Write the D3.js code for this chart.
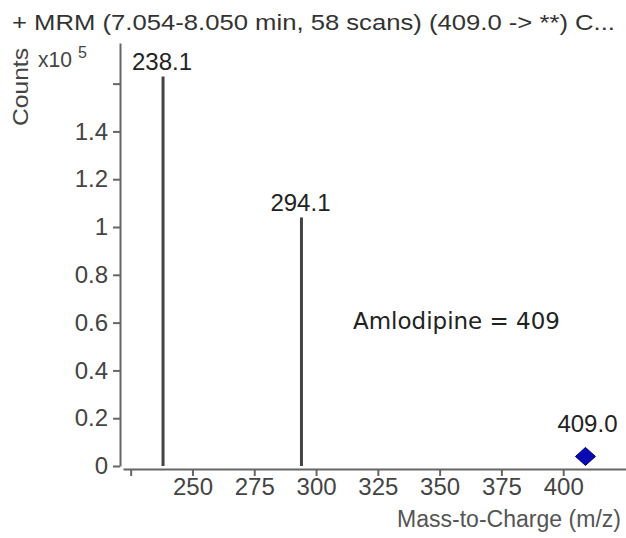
<!DOCTYPE html>
<html>
<head>
<meta charset="utf-8">
<script src="https://cdnjs.cloudflare.com/ajax/libs/d3/7.8.5/d3.min.js"></script>
<style>
  body { margin: 0; background: #fff; }
  svg { display: block; font-family: "Liberation Sans", Arial, sans-serif; }
  .axis path, .axis line { stroke: #666; stroke-width: 2px; }
  .axis text { fill: #444; font-size: 24px; }
</style>
</head>
<body>
<svg width="626" height="538"></svg>
<script>
// peaks of the MRM product ion spectrum (counts in units of 1e5)
var peakMz = [238.1, 294.1];
var peakCounts = [1.63, 1.04];
var peakLabels = ["238.1", "294.1"];

// precursor marker
var precursorMz = [409.0];
var precursorCounts = [0.04];
var precursorLabels = ["409.0"];

// axis ticks
var xTicks = [225, 250, 275, 300, 325, 350, 375, 400];
var yTicks = [0, 0.2, 0.4, 0.6, 0.8, 1.0, 1.2, 1.4, 1.6];

var svg = d3.select("svg");

// scales
var xs = d3.scaleLinear().domain([221.9, 425.4]).range([123, 626]);
var ys = d3.scaleLinear().domain([0, 1.77]).range([466, 43]);

// title
svg.append("text")
   .attr("x", 12).attr("y", 30)
   .attr("textLength", 603).attr("lengthAdjust", "spacingAndGlyphs")
   .style("font-size", "22px").style("fill", "#333")
   .text("+ MRM (7.054-8.050 min, 58 scans) (409.0 ->  **) C...");

// y axis
svg.append("g")
   .attr("class", "axis")
   .attr("transform", "translate(120,0)")
   .call(d3.axisLeft(ys)
       .tickValues(yTicks)
       .tickSize(7).tickSizeOuter(0).tickPadding(5)
       .tickFormat(function(d) { return d === 1.6 ? "" : d3.format("~g")(d); }));

// x axis
svg.append("g")
   .attr("class", "axis")
   .attr("transform", "translate(0,469)")
   .call(d3.axisBottom(xs)
       .tickValues(xTicks)
       .tickSize(7).tickSizeOuter(0).tickPadding(2)
       .tickFormat(function(d) { return d === 225 ? "" : d; }));

// axis titles
svg.append("text")
   .attr("transform", "translate(28,87) rotate(-90)")
   .attr("text-anchor", "middle")
   .attr("textLength", 78).attr("lengthAdjust", "spacingAndGlyphs")
   .style("font-size", "22px").style("fill", "#444")
   .text("Counts");

svg.append("text")
   .attr("x", 38).attr("y", 67)
   .attr("textLength", 34).attr("lengthAdjust", "spacingAndGlyphs")
   .style("font-size", "22px").style("fill", "#444")
   .text("x10");
svg.append("text")
   .attr("x", 78).attr("y", 58)
   .style("font-size", "16px").style("fill", "#444")
   .text("5");

svg.append("text")
   .attr("x", 621).attr("y", 527)
   .attr("text-anchor", "end")
   .attr("textLength", 224).attr("lengthAdjust", "spacingAndGlyphs")
   .style("font-size", "23px").style("fill", "#555")
   .text("Mass-to-Charge (m/z)");

// peak sticks
svg.append("g").selectAll("line")
   .data(peakMz)
   .enter()
   .append("line")
   .attr("x1", function(d) { return xs(d); })
   .attr("x2", function(d) { return xs(d); })
   .attr("y1", ys(0))
   .attr("y2", function(d, i) { return ys(peakCounts[i]); })
   .style("stroke", "#444")
   .style("stroke-width", "3px");

// peak labels
svg.append("g").selectAll("text")
   .data(peakMz)
   .enter()
   .append("text")
   .attr("x", function(d) { return xs(d) - 1; })
   .attr("y", function(d, i) { return ys(peakCounts[i]) - 6; })
   .attr("text-anchor", "middle")
   .style("font-size", "24px").style("fill", "#222")
   .text(function(d, i) { return peakLabels[i]; });

// precursor diamond
svg.append("g").selectAll("path")
   .data(precursorMz)
   .enter()
   .append("path")
   .attr("transform", function(d, i) { return "translate(" + xs(d) + "," + ys(precursorCounts[i]) + ")"; })
   .attr("d", "M0,-9L10,0L0,9L-10,0Z")
   .style("fill", "#0a0ab4")
   .style("stroke", "#000070")
   .style("stroke-width", "1px");

svg.append("g").selectAll("text")
   .data(precursorMz)
   .enter()
   .append("text")
   .attr("x", function(d) { return xs(d) + 2; })
   .attr("y", function(d, i) { return ys(precursorCounts[i]) - 24; })
   .attr("text-anchor", "middle")
   .style("font-size", "24px").style("fill", "#222")
   .text(function(d, i) { return precursorLabels[i]; });

// compound annotation
svg.append("text")
   .attr("x", 353).attr("y", 329)
   .attr("textLength", 207).attr("lengthAdjust", "spacingAndGlyphs")
   .style("font-family", "'DejaVu Sans', Verdana, sans-serif")
   .style("font-size", "23px").style("fill", "#222")
   .text("Amlodipine = 409");
</script>
</body>
</html>
